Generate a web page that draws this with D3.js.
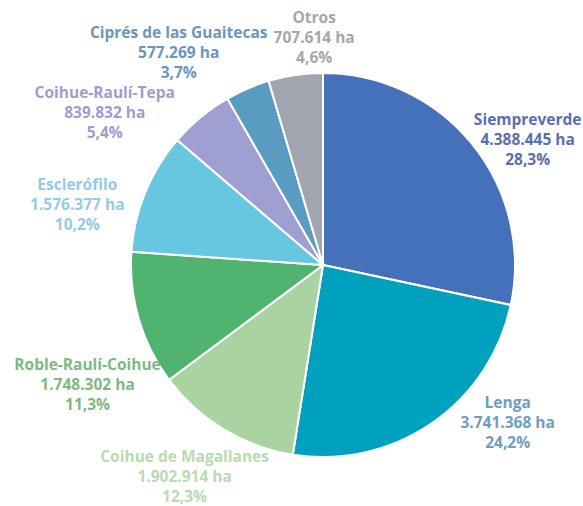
<!DOCTYPE html>
<html>
<head>
<meta charset="utf-8">
<script src="https://cdn.jsdelivr.net/npm/d3@7"></script>
<style>
  body { margin: 0; background: #fff; }
  svg { display: block; }
  text { font-family: "Open Sans", "Noto Sans", sans-serif; font-weight: 700; }
</style>
</head>
<body>
<svg></svg>
<script>
var categories = ["Siempreverde", "Lenga", "Coihue de Magallanes", "Roble-Raulí-Coihue",
  "Esclerófilo", "Coihue-Raulí-Tepa", "Ciprés de las Guaitecas", "Otros"];
var hectares = [4388445, 3741368, 1902914, 1748302, 1576377, 839832, 577269, 707614];
var hectareLabels = ["4.388.445 ha", "3.741.368 ha", "1.902.914 ha", "1.748.302 ha",
  "1.576.377 ha", "839.832 ha", "577.269 ha", "707.614 ha"];
var percentLabels = ["28,3%", "24,2%", "12,3%", "11,3%", "10,2%", "5,4%", "3,7%", "4,6%"];

var sliceColors = ["#4571bb", "#00a0bf", "#a9d3a0", "#50b36f", "#67c6e0", "#a09fd1", "#5a9bc2", "#a0a5b0"];
var labelColors = ["#5a6db5", "#6f9ec2", "#b8dcb0", "#7dba7d", "#93cbe9", "#a29bd1", "#6b95c1", "#a3a7b0"];

// label placement: angle shift (deg) from slice middle and distance from centre
var labelShift = [7.5, -15, 2, -10.5, -8.5, -15.5, -11, 6];
var labelDist = [240, 243, 253, 264, 253, 266, 257, 228];

var svgWidth = 583,
  svgHeight = 506,
  radius = 192,
  cx = 323,
  cy = 265;

var svg = d3.select("svg").attr("width", svgWidth).attr("height", svgHeight);

var pie = d3.pie().sort(null).value(function (d) { return d; });
var arc = d3.arc().innerRadius(0).outerRadius(radius);
var arcs = pie(hectares);

var g = svg.append("g").attr("transform", "translate(" + cx + "," + cy + ")");

g.selectAll("path")
  .data(arcs)
  .enter()
  .append("path")
  .attr("d", arc)
  .attr("fill", function (d, i) { return sliceColors[i]; })
  .attr("stroke", "#fff")
  .attr("stroke-width", 2);

var labels = g.selectAll("g.label")
  .data(arcs)
  .enter()
  .append("g")
  .attr("class", "label")
  .attr("transform", function (d, i) {
    var a = (d.startAngle + d.endAngle) / 2 + labelShift[i] * Math.PI / 180;
    var x = Math.sin(a) * labelDist[i];
    var y = -Math.cos(a) * labelDist[i];
    return "translate(" + x + "," + y + ")";
  })
  .attr("fill", function (d, i) { return labelColors[i]; })
  .attr("text-anchor", "middle")
  .style("font-size", "15.5px");

labels.append("text").attr("y", -20).attr("dy", "0.35em").text(function (d, i) { return categories[i]; });
labels.append("text").attr("y", 0).attr("dy", "0.35em").text(function (d, i) { return hectareLabels[i]; });
labels.append("text").attr("y", 20).attr("dy", "0.35em").text(function (d, i) { return percentLabels[i]; });
</script>
</body>
</html>
